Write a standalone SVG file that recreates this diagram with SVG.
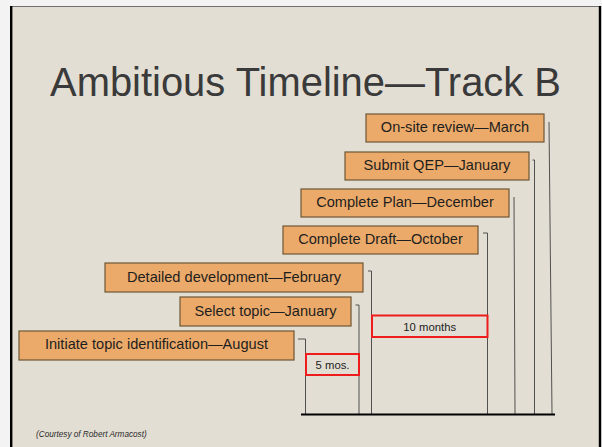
<svg xmlns="http://www.w3.org/2000/svg" width="602" height="447" viewBox="0 0 602 447">
<style>
.bg{fill:#E3DED3}
.box{fill:#EBAA69;stroke:#6E5634;stroke-width:1.2}
.lbl{font-family:"Liberation Sans",Arial,sans-serif;font-size:14.6px;fill:#1E1E1E;text-anchor:middle}
.dur{fill:#E3DED3;stroke:#EE1C1C;stroke-width:2}
.durt{font-family:"Liberation Sans",Arial,sans-serif;font-size:11.3px;fill:#222;text-anchor:middle}
.conn{fill:none;stroke:#505050;stroke-width:1}
</style>
<rect x="0" y="0" width="602" height="447" fill="#F3F3F3"/>
<rect class="bg" x="10" y="6" width="591" height="441"/>
<line x1="10" y1="6.5" x2="601" y2="6.5" stroke="#707070" stroke-width="1"/>
<line x1="11.2" y1="6" x2="11.2" y2="447" stroke="#000" stroke-width="2.4"/>
<line x1="600" y1="6" x2="600" y2="447" stroke="#000" stroke-width="2.4"/>
<text id="title" x="305.5" y="96" font-family="'Liberation Sans',Arial,sans-serif" font-size="41" fill="#3A3A3A" text-anchor="middle" textLength="511" lengthAdjust="spacingAndGlyphs">Ambitious Timeline—Track B</text>

<g id="connectors">
<polyline class="conn" points="298,339 305.5,339 305.5,414"/>
<polyline class="conn" points="355.5,305 359,305 359,414"/>
<polyline class="conn" points="368,271 371.5,271 371.5,414"/>
<polyline class="conn" points="483,233 487.5,233 487.5,414"/>
<polyline class="conn" points="514,197 515,414"/>
<polyline class="conn" points="532.5,160 534.5,160 534.5,414"/>
<polyline class="conn" points="549,122 552,414"/>
<line x1="301" y1="414.6" x2="555" y2="414.6" stroke="#000" stroke-width="2"/>
</g>

<g id="n-onsite"><rect class="box" x="366" y="114" width="178" height="28"/><text class="lbl" x="455" y="132">On-site review—March</text></g>
<g id="n-qep"><rect class="box" x="345" y="152" width="184" height="28"/><text class="lbl" x="437" y="170">Submit QEP—January</text></g>
<g id="n-plan"><rect class="box" x="301" y="189" width="208" height="28"/><text class="lbl" x="405" y="207">Complete Plan—December</text></g>
<g id="n-draft"><rect class="box" x="283" y="226" width="195" height="28"/><text class="lbl" x="380.5" y="244">Complete Draft—October</text></g>
<g id="n-detailed"><rect class="box" x="105" y="263" width="258" height="29"/><text class="lbl" x="234" y="281.5">Detailed development—February</text></g>
<g id="n-select"><rect class="box" x="180" y="297" width="171" height="29"/><text class="lbl" x="265.5" y="315.5">Select topic—January</text></g>
<g id="n-initiate"><rect class="box" x="19" y="331" width="275" height="29"/><text class="lbl" x="156.5" y="349">Initiate topic identification—August</text></g>

<g id="d-5mos"><rect class="dur" x="306" y="354" width="53" height="21"/><text class="durt" x="332.5" y="368.5">5 mos.</text></g>
<g id="d-10months"><rect class="dur" x="372" y="315.5" width="115.5" height="21.5"/><text class="durt" x="429.7" y="330.5">10 months</text></g>

<text id="credit" x="36" y="436.5" font-family="'Liberation Sans',Arial,sans-serif" font-size="8.2" font-style="italic" fill="#2A2A2A">(Courtesy of Robert Armacost)</text>
</svg>
